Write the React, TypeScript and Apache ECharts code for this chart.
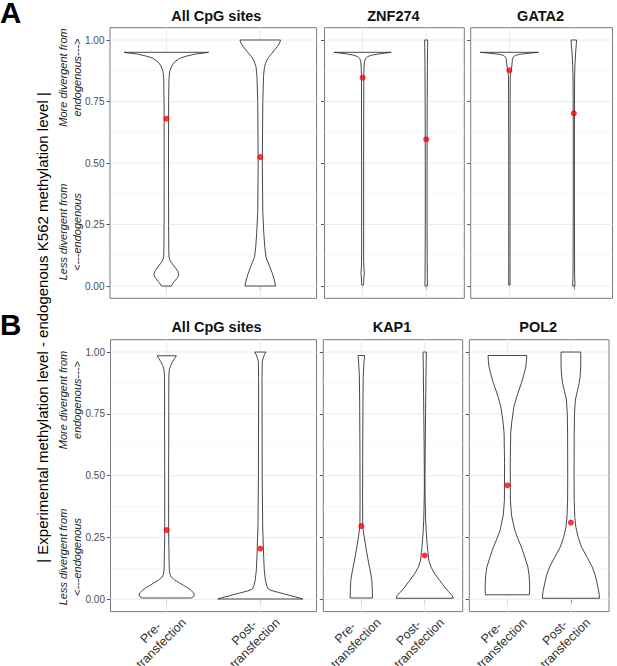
import React, { useEffect, useRef } from 'react';
import * as echarts from 'echarts';

// ---------- text ----------
const titlesA = ['All CpG sites', 'ZNF274', 'GATA2'];
const titlesB = ['All CpG sites', 'KAP1', 'POL2'];
const xCategories = ['Pre-\ntransfection', 'Post-\ntransfection'];
const yTicks = [0, 0.25, 0.5, 0.75, 1];
const yMinor = [0.125, 0.375, 0.625, 0.875];
const categoryPos = [1, 2];
const yLabel = '| Experimental methylation level - endogenous K562 methylation level |';
const moreText = 'More divergent from\nendogenous--->';
const lessText = 'Less divergent from\n<---endogenous';

// ---------- means (red dots) ----------
const aAllMeans = [0.68, 0.524];
const aZnfMeans = [0.847, 0.596];
const aGataMeans = [0.877, 0.702];
const bAllMeans = [0.28, 0.205];
const bKapMeans = [0.296, 0.177];
const bPolMeans = [0.461, 0.31];

// ---------- violin outlines: [value, half width in category units] ----------
const aAllPre = [[0.95,0.45],[0.947,0.4],[0.943,0.31],[0.935,0.22],[0.927,0.15],[0.912,0.09],[0.894,0.057],[0.871,0.035],[0.84,0.028],[0.75,0.024],[0.5,0.023],[0.25,0.024],[0.15,0.026],[0.119,0.028],[0.108,0.035],[0.097,0.05],[0.085,0.075],[0.072,0.1],[0.06,0.122],[0.05,0.132],[0.04,0.128],[0.03,0.11],[0.018,0.085],[0.008,0.065],[0,0.053]];
const aAllPost = [[1.0,0.216],[0.992,0.21],[0.98,0.195],[0.963,0.16],[0.946,0.124],[0.932,0.095],[0.919,0.071],[0.905,0.056],[0.892,0.046],[0.87,0.039],[0.851,0.035],[0.75,0.027],[0.5,0.022],[0.3,0.027],[0.214,0.038],[0.16,0.048],[0.12,0.06],[0.106,0.072],[0.08,0.1],[0.052,0.128],[0.024,0.15],[0,0.163]];
const aZnfPre = [[0.95,0.45],[0.947,0.36],[0.943,0.24],[0.938,0.14],[0.932,0.075],[0.924,0.045],[0.912,0.03],[0.89,0.022],[0.85,0.018],[0.5,0.016],[0.1,0.016],[0.065,0.022],[0.05,0.026],[0.035,0.02],[0.015,0.016],[0.004,0.014]];
const aZnfPost = [[1.0,0.024],[0.97,0.022],[0.9,0.019],[0.75,0.016],[0.5,0.014],[0.25,0.014],[0.1,0.016],[0.03,0.018],[0,0.019]];
const aGataPre = [[0.95,0.45],[0.947,0.34],[0.942,0.16],[0.937,0.09],[0.93,0.058],[0.92,0.047],[0.905,0.042],[0.89,0.036],[0.87,0.022],[0.85,0.013],[0.5,0.01],[0.1,0.01],[0.004,0.011]];
const aGataPost = [[1.0,0.042],[0.98,0.038],[0.95,0.028],[0.9,0.018],[0.85,0.012],[0.7,0.009],[0.3,0.009],[0.05,0.012],[0,0.018]];
const bAllPre = [[0.985,0.103],[0.975,0.085],[0.962,0.064],[0.945,0.042],[0.928,0.028],[0.9,0.023],[0.5,0.021],[0.25,0.021],[0.2,0.024],[0.15,0.026],[0.117,0.028],[0.1,0.036],[0.09,0.048],[0.078,0.085],[0.066,0.137],[0.056,0.18],[0.046,0.225],[0.036,0.26],[0.026,0.286],[0.017,0.296],[0.01,0.285],[0.005,0.26]];
const bAllPost = [[1.0,0.06],[0.99,0.045],[0.975,0.03],[0.962,0.021],[0.9,0.018],[0.5,0.02],[0.3,0.025],[0.239,0.03],[0.17,0.036],[0.12,0.042],[0.08,0.053],[0.055,0.068],[0.045,0.08],[0.04,0.09],[0.033,0.14],[0.025,0.22],[0.017,0.3],[0.009,0.38],[0.001,0.454]];
const bKapPre = [[0.986,0.052],[0.97,0.045],[0.9,0.03],[0.8,0.026],[0.6,0.022],[0.4,0.02],[0.3,0.022],[0.27,0.035],[0.211,0.071],[0.143,0.118],[0.11,0.145],[0.076,0.166],[0.04,0.173],[0.005,0.176]];
const bKapPost = [[1.0,0.026],[0.9,0.02],[0.75,0.014],[0.6,0.008],[0.5,0.005],[0.45,0.005],[0.4,0.008],[0.32,0.015],[0.265,0.026],[0.22,0.04],[0.157,0.065],[0.13,0.1],[0.103,0.158],[0.075,0.24],[0.049,0.315],[0.03,0.38],[0.015,0.434],[0.004,0.45]];
const bPolPre = [[0.986,0.305],[0.965,0.3],[0.94,0.29],[0.91,0.26],[0.874,0.22],[0.83,0.16],[0.78,0.104],[0.72,0.07],[0.671,0.052],[0.55,0.045],[0.4,0.047],[0.34,0.065],[0.279,0.116],[0.245,0.165],[0.211,0.22],[0.17,0.275],[0.13,0.323],[0.095,0.342],[0.062,0.35],[0.04,0.35],[0.018,0.347]];
const bPolPost = [[1.0,0.155],[0.94,0.155],[0.9,0.145],[0.873,0.129],[0.84,0.1],[0.806,0.07],[0.75,0.057],[0.671,0.052],[0.5,0.05],[0.4,0.052],[0.33,0.062],[0.292,0.078],[0.25,0.115],[0.211,0.168],[0.17,0.255],[0.13,0.336],[0.095,0.385],[0.062,0.414],[0.03,0.44],[0.004,0.45]];

// ---------- layout (pixels) ----------
const rowTop = [27.7, 339.7];
const rowHeight = [270.6, 271.9];
const panelLeft = [[110, 324.5, 470.7], [110.5, 323.3, 469.3]];
const panelWidth = [[206.6, 139.8, 141.8], [206, 139.4, 139.7]];

const FONT = 'Liberation Sans, Arial, Helvetica, sans-serif';

export default function App() {
  const ref = useRef<HTMLDivElement>(null);
  useEffect(() => {
    if (!ref.current) return;
    const chart = echarts.init(ref.current, null, { renderer: 'svg' });

    const profiles = [
      [aAllPre, aAllPost], [aZnfPre, aZnfPost], [aGataPre, aGataPost],
      [bAllPre, bAllPost], [bKapPre, bKapPost], [bPolPre, bPolPost],
    ];
    const means = [aAllMeans, aZnfMeans, aGataMeans, bAllMeans, bKapMeans, bPolMeans];
    const titles = [...titlesA, ...titlesB];

    const grids: any[] = [];
    const xAxes: any[] = [];
    const yAxes: any[] = [];
    const series: any[] = [];
    const graphics: any[] = [];

    for (let i = 0; i < 6; i++) {
      const row = i < 3 ? 0 : 1;
      const col = i % 3;
      const left = panelLeft[row][col];
      const width = panelWidth[row][col];
      grids.push({
        left, top: rowTop[row], width, height: rowHeight[row],
        show: true, borderColor: '#7a7a7a', borderWidth: 1, backgroundColor: 'transparent',
      });
      xAxes.push({
        type: 'value', gridIndex: i, min: 0.4, max: 2.6,
        splitLine: { show: false },
        axisLine: { show: false },
        axisTick: { show: true, customValues: categoryPos, length: 3.5, lineStyle: { color: '#555', width: 1 } },
        axisLabel: { show: false },
      });
      yAxes.push({
        type: 'value', gridIndex: i, min: -0.05, max: 1.05,
        splitLine: { show: false },
        axisLine: { show: false },
        axisTick: { show: true, customValues: yTicks, length: 3.5, lineStyle: { color: '#555', width: 1 } },
        axisLabel: col === 0 ? {
          show: true,
          customValues: yTicks,
          formatter: (v: number) => v.toFixed(2),
          fontSize: 10,
          color: '#4d4d4d',
          margin: 5.5,
          fontFamily: FONT,
        } : { show: false },
      });

      // background grid lines
      const gridData = [
        ...yTicks.map((v) => [0, v]),
        ...yMinor.map((v) => [1, v]),
        ...categoryPos.map((c) => [2, c]),
      ];
      series.push({
        type: 'custom', xAxisIndex: i, yAxisIndex: i, z: 1, silent: true,
        data: gridData,
        renderItem: (params: any, api: any) => {
          const kind = api.value(0);
          const v = api.value(1);
          const cs = params.coordSys;
          if (kind === 2) {
            const x = api.coord([v, 0])[0];
            return { type: 'line', shape: { x1: x, y1: cs.y, x2: x, y2: cs.y + cs.height }, style: { stroke: '#ebebeb', lineWidth: 1 } };
          }
          const y = api.coord([1, v])[1];
          return {
            type: 'line', shape: { x1: cs.x, y1: y, x2: cs.x + cs.width, y2: y },
            style: { stroke: kind === 0 ? '#ebebeb' : '#f3f3f3', lineWidth: kind === 0 ? 1 : 0.7 },
          };
        },
      });

      // violins
      const prof = profiles[i];
      series.push({
        type: 'custom', xAxisIndex: i, yAxisIndex: i, z: 2, silent: true,
        data: categoryPos.map((c, k) => [c, k]),
        renderItem: (params: any, api: any) => {
          const c = api.value(0);
          const p = prof[api.value(1)];
          const right = p.map(([v, hw]) => api.coord([c + hw, v]));
          const leftSide = p.slice().reverse().map(([v, hw]) => api.coord([c - hw, v]));
          return {
            type: 'polygon',
            shape: { points: [...right, ...leftSide] },
            style: { fill: '#ffffff', stroke: '#333333', lineWidth: 0.9 },
          };
        },
      });

      // means
      series.push({
        type: 'scatter', xAxisIndex: i, yAxisIndex: i, z: 3, silent: true,
        symbol: 'circle', symbolSize: 6,
        itemStyle: { color: '#ff0000' },
        data: means[i].map((m, k) => [categoryPos[k], m]),
      });

      // panel title
      graphics.push({
        type: 'text',
        x: left + width / 2 + (col === 0 ? 3 : -1),
        y: row === 0 ? 15.5 : 327,
        style: { text: titles[i], font: `bold 14.5px ${FONT}`, fill: '#111', align: 'center', verticalAlign: 'middle' },
      });
    }

    chart.setOption({
      animation: false,
      backgroundColor: '#ffffff',
      grid: grids,
      xAxis: xAxes,
      yAxis: yAxes,
      series,
    });

    // rotated category labels under row B (one text per line, 45 degrees),
    // anchored at the tick position given by the axis scale
    const ang = Math.PI / 4;
    const lineGap = 15;
    for (let i = 3; i < 6; i++) {
      categoryPos.forEach((c, k) => {
        const pt = chart.convertToPixel({ xAxisIndex: i, yAxisIndex: i } as any, [c, -0.05]) as number[];
        const cx = pt[0] - 10.7;
        const cy = pt[1] + 26.5;
        const lines = xCategories[k].split('\n');
        lines.forEach((ln, j) => {
          const off = (j - (lines.length - 1) / 2) * lineGap;
          graphics.push({
            type: 'text',
            x: cx + off * Math.sin(ang),
            y: cy + off * Math.cos(ang),
            rotation: ang,
            style: { text: ln, font: `12.5px ${FONT}`, fill: '#333', align: 'center', verticalAlign: 'middle' },
          });
        });
      });
    }

    // letters
    graphics.push({ type: 'text', x: 0, y: 12.5, style: { text: 'A', font: `bold 29.5px ${FONT}`, fill: '#000', align: 'left', verticalAlign: 'middle', lineHeight: 22 } });
    graphics.push({ type: 'text', x: 0, y: 324, style: { text: 'B', font: `bold 29.5px ${FONT}`, fill: '#000', align: 'left', verticalAlign: 'middle', lineHeight: 22 } });

    // big y label
    graphics.push({
      type: 'text', x: 42, y: 327.5, rotation: Math.PI / 2,
      style: { text: yLabel, font: `15px ${FONT}`, fill: '#000', align: 'center', verticalAlign: 'middle' },
    });

    // italic direction annotations
    const annot = (text: string, y: number) => ({
      type: 'text', x: 70, y, rotation: Math.PI / 2,
      style: { text, font: `italic 11px ${FONT}`, fill: '#222', align: 'center', verticalAlign: 'middle', lineHeight: 13.5 },
    });
    graphics.push(annot(moreText, 77.5));
    graphics.push(annot(lessText, 232));
    graphics.push(annot(moreText, 400));
    graphics.push(annot(lessText, 557));

    chart.setOption({ graphic: { elements: graphics } });

    return () => chart.dispose();
  }, []);

  return <div ref={ref} style={{ position: 'absolute', left: 0, top: 0, width: 617, height: 666 }} />;
}
